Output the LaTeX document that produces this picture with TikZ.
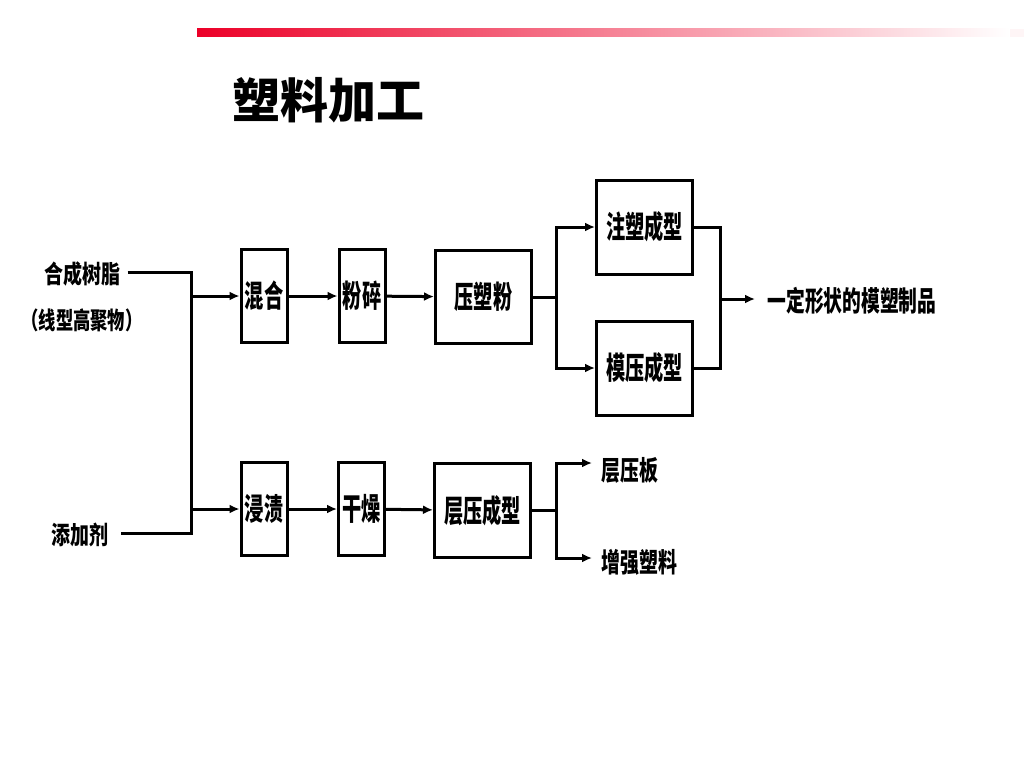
\documentclass[tikz,border=0pt]{standalone}
\usepackage{fontspec}
\newfontfamily\cjk{Noto Sans CJK SC}
\usetikzlibrary{arrows.meta}
\definecolor{barred}{RGB}{236,0,40}
\newcommand\tall[2][0.62]{\scalebox{#1}[1]{#2}}
\begin{document}
\begin{tikzpicture}[
x=1pt, y=-1pt, line width=3pt,
>={Latex[length=10pt,width=9pt]},
stage/.style={draw, fill=white, inner sep=0pt, minimum width=46pt, minimum height=93pt,
  font=\cjk\bfseries\fontsize{31}{34}\selectfont},
widestage/.style={stage, minimum width=96pt},
word/.style={inner sep=0pt, font=\cjk\bfseries\fontsize{27}{30}\selectfont}
]
\useasboundingbox (0,0) rectangle (1024,768);
\shade[left color=barred, right color=white, draw=none] (197,29) rectangle (1010,37);
\fill[white!96!barred] (1010,29) rectangle (1024,37);
\node[inner sep=0pt, font=\cjk\bfseries\fontsize{48}{52}\selectfont] (title) at (328,100) {塑料加工};

\node[word, font=\cjk\bfseries\fontsize{25}{28}\selectfont] (resin) at (82,274) {\tall[0.76]{合成树脂}};
\node[word, font=\cjk\bfseries\fontsize{24}{28}\selectfont] (poly) at (82,320) {\tall[0.72]{（线型高聚物）}};
\node[word, font=\cjk\bfseries\fontsize{25}{28}\selectfont] (additive) at (80,535) {\tall[0.76]{添加剂}};

\node[stage] (mix) at (264,296) {\tall{混合}};
\node[stage] (crush) at (362,296) {\tall{粉碎}};
\node[widestage] (powder) at (483.5,297) {\tall{压塑粉}};
\node[widestage, minimum height=94pt] (inject) at (644.5,227) {\tall{注塑成型}};
\node[widestage, minimum height=94pt] (mould) at (644.5,368) {\tall{模压成型}};
\node[word, font=\cjk\bfseries\fontsize{28}{30}\selectfont, anchor=west] (product) at (766,301) {\tall[0.67]{一定形状的模塑制品}};

\node[stage] (soak) at (264,509) {\tall{浸渍}};
\node[stage] (dry) at (361.5,509) {\tall{干燥}};
\node[widestage, minimum height=94pt] (laminate) at (482.5,510.5) {\tall{层压成型}};
\node[word, anchor=west] (board) at (600,470) {\tall[0.7]{层压板}};
\node[word, anchor=west] (reinforced) at (600,562) {\tall[0.7]{增强塑料}};

\coordinate (bustop) at (191,272);
\coordinate (busend) at (191,533);
\coordinate (split) at (556,297);
\coordinate (merge) at (720,299);
\coordinate (split2) at (556,510.5);

\draw ([xshift=6pt,yshift=2pt]resin.east) -- (bustop) -- (busend) -- ([xshift=11pt,yshift=2pt]additive.east);
\draw[->] (bustop |- mix) -- (mix);
\draw[->] (busend |- soak) -- (soak);
\draw[->] (mix) -- (crush);
\draw[->] (crush) -- (powder);
\draw[->] (soak) -- (dry);
\draw[->] (dry) -- (laminate);

\draw (powder) -- (split);
\draw[->] (split) |- (inject);
\draw[->] (split) |- (mould);
\draw (inject) -| (merge);
\draw (mould) -| (merge);
\draw[->] (merge) -- ([xshift=-11pt,yshift=2pt]product.west);

\draw (laminate) -- (split2);
\draw[->] (split2) |- ([xshift=-8pt,yshift=7pt]board.west);
\draw[->] (split2) |- ([xshift=-8pt,yshift=4pt]reinforced.west);
\end{tikzpicture}
\end{document}
